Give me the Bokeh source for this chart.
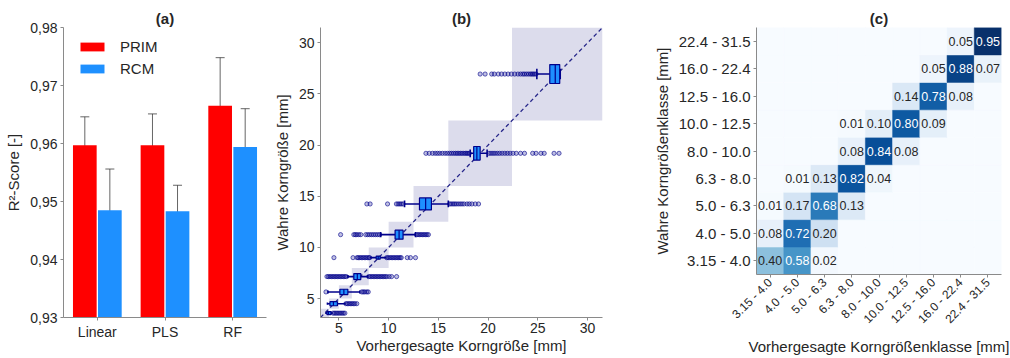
import math
import numpy as np
from bokeh.plotting import figure
from bokeh.layouts import row
from bokeh.models import (ColumnDataSource, FixedTicker, Range1d, Legend, LegendItem,
                          Whisker, TeeHead, CustomJSTickFormatter, LinearColorMapper)
from bokeh.core.properties import value
from bokeh.palettes import Blues256
from bokeh.embed import file_html
from bokeh.resources import INLINE

FONT = "Liberation Sans"
TXT = "#262626"
AX = "#8a8a8a"

# ---------------- (a) data ----------------
models = ["Linear", "PLS", "RF"]
prim_mean = [0.9597, 0.9597, 0.9665]
prim_lo = [0.9548, 0.9542, 0.9565]
prim_hi = [0.9646, 0.9651, 0.9748]
rcm_mean = [0.9485, 0.9483, 0.9594]
rcm_lo = [0.9413, 0.9406, 0.9526]
rcm_hi = [0.9556, 0.9528, 0.9660]
r2_ticks = [0.93, 0.94, 0.95, 0.96, 0.97, 0.98]

# ---------------- (b) data ----------------
class_labels = ["3.15 - 4.0", "4.0 - 5.0", "5.0 - 6.3", "6.3 - 8.0", "8.0 - 10.0",
                "10.0 - 12.5", "12.5 - 16.0", "16.0 - 22.4", "22.4 - 31.5"]
class_lo = [3.15, 4.0, 5.0, 6.3, 8.0, 10.0, 12.5, 16.0, 22.4]
class_hi = [4.0, 5.0, 6.3, 8.0, 10.0, 12.5, 16.0, 22.4, 31.5]
true_mid = [3.575, 4.5, 5.65, 7.15, 9.0, 11.25, 14.25, 19.2, 26.95]
whisk_lo = [3.70, 3.85, 3.90, 5.90, 8.20, 9.20, 11.60, 18.20, 24.90]
q1 = [3.80, 4.10, 5.10, 6.50, 8.75, 10.65, 13.10, 18.55, 26.20]
median = [3.95, 4.45, 5.50, 6.85, 8.95, 11.05, 13.72, 18.87, 26.75]
q3 = [4.20, 4.85, 5.90, 7.20, 9.15, 11.45, 14.30, 19.20, 27.20]
whisk_hi = [4.30, 5.60, 7.10, 7.90, 9.70, 12.70, 16.00, 19.90, 27.25]
outliers = [
    [4.40, 4.55, 4.70, 4.85, 5.00, 5.15, 5.30, 5.45, 5.60],
    [5.70, 5.85, 6.00, 6.15, 6.30, 6.45, 6.60, 6.80],
    [3.70, 7.30, 7.45, 7.60, 7.80, 7.95],
    [3.80, 3.95, 4.10, 4.25, 4.40, 4.55, 4.70, 4.85, 5.00, 5.15, 5.30, 5.45, 5.60, 5.75,
     8.00, 8.15, 8.30, 8.45, 8.60, 8.75, 8.90, 9.05, 9.20, 9.35, 9.50, 9.65, 9.80, 10.05, 10.30, 10.80],
    [4.50, 6.42, 6.82, 6.95, 7.10, 7.25, 7.40, 7.55, 7.70, 7.85, 8.00, 8.10, 9.80, 9.95, 10.10,
     10.25, 10.40, 10.55, 10.70, 10.85, 11.00, 11.15, 11.27, 11.87, 12.20, 12.70],
    [5.17, 6.50, 6.65, 6.80, 7.00, 7.20, 7.70, 7.90, 8.10, 8.30, 8.50, 8.70, 8.90, 9.10,
     12.80, 12.95, 13.10, 13.25, 13.40, 13.55, 13.70, 13.85, 14.00],
    [7.81, 8.14, 9.89, 10.78, 10.95, 11.11, 11.27, 11.44,
     16.13, 16.29, 16.46, 16.62, 16.79, 16.99, 17.19, 17.38, 17.58, 17.88, 18.11, 18.37, 18.71, 19.04],
    [13.75, 14.08, 14.41, 14.68, 14.91, 15.14, 15.40, 15.67, 15.90, 16.13, 16.33, 16.53, 16.72,
     16.89, 17.05, 17.22, 17.38, 17.55, 17.71, 17.85, 17.98, 18.11,
     20.09, 20.29, 20.49, 20.69, 20.92, 21.15, 21.41, 21.68, 21.94, 22.21, 22.50, 22.83, 23.26,
     23.66, 24.48, 24.82, 25.31, 25.64, 26.63, 27.13],
    [19.20, 19.70, 20.36, 20.62, 21.02, 21.35, 21.68, 22.01, 22.34, 22.67, 23.00, 23.26, 23.49,
     23.66, 23.86, 24.06, 24.25, 24.39, 24.52, 24.65, 24.82],
]
size_ticks = [5, 10, 15, 20, 25, 30]

# ---------------- (c) data ----------------
# rows: true class (class_labels order), columns: predicted class
conf = [
    [0.40, 0.58, 0.02, 0.00, 0.00, 0.00, 0.00, 0.00, 0.00],
    [0.08, 0.72, 0.20, 0.00, 0.00, 0.00, 0.00, 0.00, 0.00],
    [0.01, 0.17, 0.68, 0.13, 0.00, 0.00, 0.00, 0.00, 0.00],
    [0.00, 0.01, 0.13, 0.82, 0.04, 0.00, 0.00, 0.00, 0.00],
    [0.00, 0.00, 0.00, 0.08, 0.84, 0.08, 0.00, 0.00, 0.00],
    [0.00, 0.00, 0.00, 0.01, 0.10, 0.80, 0.09, 0.00, 0.00],
    [0.00, 0.00, 0.00, 0.00, 0.00, 0.14, 0.78, 0.08, 0.00],
    [0.00, 0.00, 0.00, 0.00, 0.00, 0.00, 0.05, 0.88, 0.07],
    [0.00, 0.00, 0.00, 0.00, 0.00, 0.00, 0.00, 0.05, 0.95],
]

# styles (sizes of boxes in panel b, in y-units)
box_h = [0.30, 0.40, 0.52, 0.58, 0.30, 0.88, 1.17, 1.33, 1.85]


def style(p, tick_px="14px"):
    p.axis.axis_line_color = AX
    p.axis.major_tick_line_color = AX
    p.axis.major_tick_in = 0
    p.axis.major_tick_out = 3
    p.axis.minor_tick_line_color = None
    p.axis.major_label_text_font = FONT
    p.axis.major_label_text_font_size = tick_px
    p.axis.major_label_text_color = TXT
    p.axis.axis_label_text_font = FONT
    p.axis.axis_label_text_font_size = "15px"
    p.axis.axis_label_text_font_style = "normal"
    p.axis.axis_label_text_color = TXT
    p.axis.major_label_standoff = 3
    p.axis.axis_label_standoff = 5
    p.xgrid.grid_line_color = None
    p.ygrid.grid_line_color = None
    p.outline_line_color = None
    p.title.align = "center"
    p.title.text_font = FONT
    p.title.text_font_size = "15px"
    p.title.text_font_style = "bold"
    p.title.text_color = TXT
    p.title.standoff = 1


H = 358

# ================= panel (a) =================
pa = figure(width=270, height=H, x_range=Range1d(-0.5, 2.5), y_range=Range1d(r2_ticks[0], r2_ticks[-1]),
            output_backend="svg", toolbar_location=None, title="(a)", frame_align=False,
            min_border_left=63, min_border_right=4, min_border_top=27, min_border_bottom=41)
style(pa)
idx = np.arange(len(models))
src_a = ColumnDataSource(dict(xp=idx - 0.185, xr=idx + 0.185, prim=prim_mean, rcm=rcm_mean,
                              plo=prim_lo, phi=prim_hi, rlo=rcm_lo, rhi=rcm_hi))
r1 = pa.vbar(x="xp", top="prim", bottom=r2_ticks[0], width=0.35, fill_color="#ff0000",
             line_color=None, source=src_a)
r2 = pa.vbar(x="xr", top="rcm", bottom=r2_ticks[0], width=0.35, fill_color="#1e90ff",
             line_color=None, source=src_a)
for base, lo, hi in (("xp", "plo", "phi"), ("xr", "rlo", "rhi")):
    w = Whisker(source=src_a, base=base, lower=lo, upper=hi, dimension="height",
                line_color="#333333", line_alpha=0.75, line_width=1,
                upper_head=TeeHead(size=9, line_color="#333333", line_alpha=0.75, line_width=1),
                lower_head=TeeHead(size=9, line_color="#333333", line_alpha=0.75, line_width=1))
    pa.add_layout(w)
pa.xaxis.ticker = FixedTicker(ticks=list(idx))
pa.xaxis.formatter = CustomJSTickFormatter(args=dict(labels=models),
                                           code="return labels[Math.round(tick)];")
pa.yaxis.ticker = FixedTicker(ticks=r2_ticks)
pa.yaxis.formatter = CustomJSTickFormatter(code="return tick.toFixed(2).replace('.', ',');")
pa.yaxis.axis_label = "R²-Score [-]"
leg = Legend(items=[LegendItem(label="PRIM", renderers=[r1]), LegendItem(label="RCM", renderers=[r2])],
             location=(14, 238), glyph_width=30, glyph_height=11, label_height=22, spacing=0,
             padding=0, margin=0, label_standoff=13, label_text_font=FONT,
             label_text_font_size="15px", label_text_color=TXT,
             border_line_color=None, background_fill_alpha=0)
pa.add_layout(leg)

# ================= panel (b) =================
pb = figure(width=380, height=H, x_range=Range1d(class_lo[0], class_hi[-1]),
            y_range=Range1d(class_lo[0], class_hi[-1]),
            output_backend="svg", toolbar_location=None, title="(b)", frame_align=False,
            min_border_left=45, min_border_right=48, min_border_top=27, min_border_bottom=41)
style(pb)
pb.quad(left=class_lo, right=class_hi, bottom=class_lo, top=class_hi,
        fill_color="#dcdcec", line_color=None)
pb.line([class_lo[0], class_hi[-1]], [class_lo[0], class_hi[-1]], line_color="#27278a",
        line_dash="4 3", line_width=1.3)
out_x = [v for lst in outliers for v in lst]
out_y = [true_mid[i] for i, lst in enumerate(outliers) for _ in lst]
pb.scatter(out_x, out_y, marker="circle", size=4.2, line_color="#00008b", line_alpha=0.6,
           fill_color="#00008b", fill_alpha=0.25, line_width=1)
mid = np.array(true_mid)
bh = np.array(box_h)
pb.segment(x0=whisk_lo, y0=mid, x1=q1, y1=mid, line_color="#00008b", line_width=1.6)
pb.segment(x0=q3, y0=mid, x1=whisk_hi, y1=mid, line_color="#00008b", line_width=1.6)
pb.segment(x0=whisk_lo, y0=mid - 0.28 * bh, x1=whisk_lo, y1=mid + 0.28 * bh, line_color="#00008b", line_width=1.6)
pb.segment(x0=whisk_hi, y0=mid - 0.28 * bh, x1=whisk_hi, y1=mid + 0.28 * bh, line_color="#00008b", line_width=1.6)
pb.hbar(y=mid, left=q1, right=q3, height=bh, fill_color="#1e8fff", line_color="#00008b", line_width=1.2)
pb.segment(x0=median, y0=mid - bh / 2, x1=median, y1=mid + bh / 2, line_color="#00008b", line_width=1.2)
pb.xaxis.ticker = FixedTicker(ticks=size_ticks)
pb.yaxis.ticker = FixedTicker(ticks=size_ticks)
pb.yaxis.axis_label = "Wahre Korngröße [mm]"
pb.xaxis.axis_label = "Vorhergesagte Korngröße [mm]"
pb.xaxis.major_label_standoff = 2
pb.xaxis.axis_label_standoff = 1

# ================= panel (c) =================
n = len(class_labels)
pc = figure(width=360, height=H, x_range=Range1d(0, n), y_range=Range1d(0, n),
            output_backend="svg", toolbar_location=None, title="(c)", frame_align=False,
            min_border_left=104, min_border_right=9, min_border_top=27, min_border_bottom=84)
style(pc, "15px")
cx, cy, cv, ct, cc = [], [], [], [], []
for i, rowv in enumerate(conf):
    for j, v in enumerate(rowv):
        cx.append(j + 0.5)
        cy.append(i + 0.5)
        cv.append(v)
        ct.append(f"{v:.2f}" if v > 0 else "")
        cc.append("white" if v >= 0.5 else TXT)
src_c = ColumnDataSource(dict(x=cx, y=cy, v=cv, t=ct, c=cc))
mapper = LinearColorMapper(palette=list(reversed(Blues256)), low=0, high=max(max(r) for r in conf))
pc.rect(x="x", y="y", width=1, height=1, source=src_c,
        fill_color={"field": "v", "transform": mapper},
        line_color={"field": "v", "transform": mapper}, line_width=0.5)
pc.text(x="x", y="y", text="t", source=src_c, text_align="center", text_baseline="middle",
        text_font=value(FONT), text_font_size="12.5px", text_color="c")
ticks_c = [k + 0.5 for k in range(n)]
fmt_c = CustomJSTickFormatter(args=dict(labels=class_labels), code="return labels[Math.floor(tick)] || '';")
pc.xaxis.ticker = FixedTicker(ticks=ticks_c)
pc.yaxis.ticker = FixedTicker(ticks=ticks_c)
pc.xaxis.formatter = fmt_c
pc.yaxis.formatter = fmt_c
pc.xaxis.major_label_orientation = math.pi / 4
pc.xaxis.major_label_text_font_size = "12px"
pc.yaxis.axis_label = "Wahre Korngrößenklasse [mm]"
pc.xaxis.axis_label = "Vorhergesagte Korngrößenklasse [mm]"
pc.xaxis.axis_label_standoff = 4

layout = row(pa, pb, pc)
open("out.html", "w").write(file_html(layout, INLINE))
